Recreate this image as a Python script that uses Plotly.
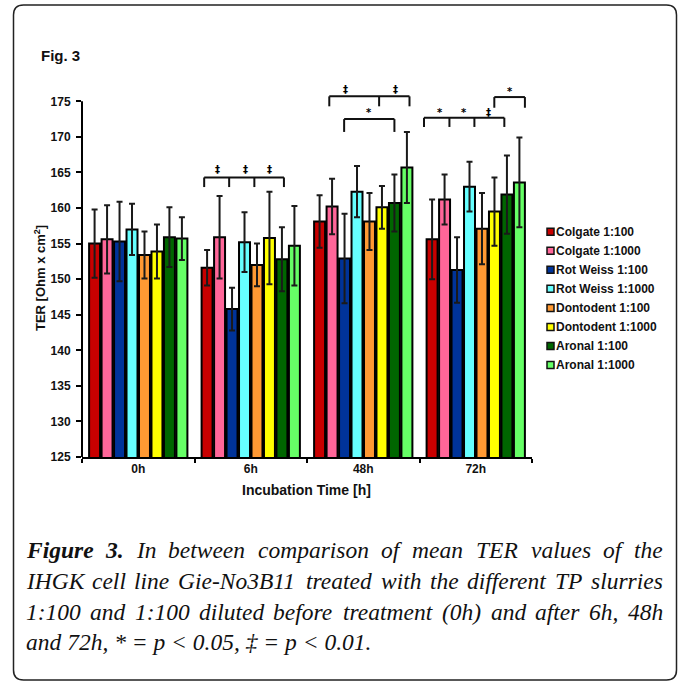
import plotly.graph_objects as go

# ---------------- data ----------------
timepoints = ["0h", "6h", "48h", "72h"]
series_names = ["Colgate 1:100", "Colgate 1:1000", "Rot Weiss 1:100", "Rot Weiss 1:1000",
                "Dontodent 1:100", "Dontodent 1:1000", "Aronal 1:100", "Aronal 1:1000"]
series_colors = ["#C80000", "#FF6699", "#003399", "#66FFFF",
                 "#FF9933", "#FFFF00", "#006600", "#66FF66"]
colgate_100 = [155.0, 151.6, 158.1, 155.6]
colgate_1000 = [155.6, 155.9, 160.2, 161.2]
rotweiss_100 = [155.3, 145.8, 152.9, 151.3]
rotweiss_1000 = [157.0, 155.2, 162.3, 163.0]
dontodent_100 = [153.4, 152.0, 158.1, 157.1]
dontodent_1000 = [153.9, 155.8, 160.1, 159.5]
aronal_100 = [155.9, 152.8, 160.7, 161.9]
aronal_1000 = [155.7, 154.7, 165.7, 163.6]
colgate_100_err = [4.8, 2.5, 3.7, 5.6]
colgate_1000_err = [4.8, 5.8, 3.9, 3.5]
rotweiss_100_err = [5.6, 3.0, 6.3, 4.6]
rotweiss_1000_err = [3.6, 4.2, 3.6, 3.5]
dontodent_100_err = [3.3, 3.0, 4.0, 5.0]
dontodent_1000_err = [3.8, 6.5, 3.0, 4.8]
aronal_100_err = [4.2, 4.5, 4.0, 5.5]
aronal_1000_err = [3.0, 5.6, 5.0, 6.3]
means = [colgate_100, colgate_1000, rotweiss_100, rotweiss_1000,
         dontodent_100, dontodent_1000, aronal_100, aronal_1000]
errors = [colgate_100_err, colgate_1000_err, rotweiss_100_err, rotweiss_1000_err,
          dontodent_100_err, dontodent_1000_err, aronal_100_err, aronal_1000_err]
y_ticks = [125, 130, 135, 140, 145, 150, 155, 160, 165, 170, 175]

# significance brackets: (category index, tick offsets, bracket y, drop y, symbols, symbol y)
brackets = [
    (1, [-0.414, -0.192, 0.032, 0.295], 164.3, 162.95, [("‡", -0.298), ("‡", -0.046), ("‡", 0.17)], 165.4),
    (2, [-0.302, 0.141, 0.411], 175.7, 174.3, [("‡", -0.157), ("‡", 0.287)], 176.7),
    (2, [-0.170, 0.277], 172.5, 170.7, [("*", 0.047)], 173.5),
    (3, [-0.460, -0.234, -0.012, 0.254], 172.7, 171.4, [("*", -0.321), ("*", -0.107), ("‡", 0.112)], 173.5),
    (3, [0.165, 0.437], 175.6, 174.1, [("*", 0.301)], 176.4),
]

caption_lines = [
    [("Figure", True), ("3.", True), ("In", False), ("between", False), ("comparison", False), ("of", False),
     ("mean", False), ("TER", False), ("values", False), ("of", False), ("the", False)],
    [("IHGK", False), ("cell", False), ("line", False), ("Gie-No3B11", False), ("treated", False), ("with", False),
     ("the", False), ("different", False), ("TP", False), ("slurries", False)],
    [("1:100", False), ("and", False), ("1:100", False), ("diluted", False), ("before", False), ("treatment", False),
     ("(0h)", False), ("and", False), ("after", False), ("6h,", False), ("48h", False)],
]
caption_last = "and 72h, * = p < 0.05, ‡ = p < 0.01."

# ---------------- layout geometry ----------------
W, H = 683, 686
ML, MR, MT, MB = 82, 151, 80, 229
PW, PH = W - ML - MR, H - MT - MB
Y_RANGE = [125, 178]


def px(x):
    return (x - ML) / PW


def py(y):
    return (H - MB - y) / PH


fig = go.Figure()
for name, color, m, e in zip(series_names, series_colors, means, errors):
    fig.add_trace(go.Bar(
        x=timepoints, y=m, name=name, showlegend=False,
        marker=dict(color=color, line=dict(color="black", width=2)),
        error_y=dict(type="data", array=e, visible=True, color="#1a1a1a", thickness=2, width=3),
    ))

shapes = []
annotations = []

# brackets
for cat, ticks, yb, yd, syms, ys in brackets:
    shapes.append(dict(type="line", xref="x", yref="y", x0=cat + ticks[0], x1=cat + ticks[-1],
                       y0=yb, y1=yb, line=dict(color="#111", width=2)))
    for t in ticks:
        shapes.append(dict(type="line", xref="x", yref="y", x0=cat + t, x1=cat + t,
                           y0=yb, y1=yd, line=dict(color="#111", width=2)))
    for s, o in syms:
        annotations.append(dict(x=cat + o, y=ys, xref="x", yref="y", text=s, showarrow=False,
                                font=dict(family="DejaVu Sans", size=10, color="#000000", weight="bold"),
                                xanchor="center", yanchor="middle"))

# y axis line only up to 175
frac = (y_ticks[-1] - Y_RANGE[0]) / (Y_RANGE[1] - Y_RANGE[0])
shapes.append(dict(type="line", xref="paper", yref="paper", x0=0, x1=0, y0=0, y1=frac,
                   line=dict(color="black", width=2)))

# frame
L, R, T, B, r = 13.5, 676.5, 5, 680, 10
path = (f"M{px(L + r)},{py(T)} L{px(R - r)},{py(T)} Q{px(R)},{py(T)} {px(R)},{py(T + r)} "
        f"L{px(R)},{py(B - r)} Q{px(R)},{py(B)} {px(R - r)},{py(B)} "
        f"L{px(L + r)},{py(B)} Q{px(L)},{py(B)} {px(L)},{py(B - r)} "
        f"L{px(L)},{py(T + r)} Q{px(L)},{py(T)} {px(L + r)},{py(T)} Z")
shapes.append(dict(type="path", xref="paper", yref="paper", path=path,
                   line=dict(color="#222", width=1.5)))

sans = "Liberation Sans"
# Fig. 3
annotations.append(dict(x=px(40), y=py(55), xref="paper", yref="paper", text="Fig. 3", showarrow=False,
                        xanchor="left", yanchor="middle", borderpad=0,
                        font=dict(family=sans, size=15, color="#111", weight="bold")))
# axis titles
annotations.append(dict(x=px(40), y=py(278), xref="paper", yref="paper", text="TER [Ohm x cm<sup>2</sup>]",
                        showarrow=False, textangle=-90, xanchor="center", yanchor="middle",
                        font=dict(family=sans, size=13, color="#111", weight="bold")))
annotations.append(dict(x=px(306.5), y=py(489.5), xref="paper", yref="paper", text="Incubation Time [h]",
                        showarrow=False, xanchor="center", yanchor="middle",
                        font=dict(family=sans, size=14, color="#111", weight="bold")))

# manual legend
leg_y0, leg_dy = 231.7, 19.05
for i, (name, color) in enumerate(zip(series_names, series_colors)):
    yc = leg_y0 + i * leg_dy
    shapes.append(dict(type="rect", xref="paper", yref="paper", x0=px(547), x1=px(554),
                       y0=py(yc + 3.5), y1=py(yc - 3.5), fillcolor=color,
                       line=dict(color="#111", width=1.5)))
    annotations.append(dict(x=px(555), y=py(yc), xref="paper", yref="paper", text=name, showarrow=False,
                            xanchor="left", yanchor="middle", borderpad=0,
                            font=dict(family=sans, size=12, color="#111", weight="bold")))

# caption (justified words)
TI = {' ': 250, 'a': 500, 'b': 500, 'c': 444, 'd': 500, 'e': 444, 'f': 278, 'g': 500, 'h': 500, 'i': 278,
      'j': 278, 'k': 444, 'l': 278, 'm': 722, 'n': 500, 'o': 500, 'p': 500, 'q': 500, 'r': 389, 's': 389,
      't': 278, 'u': 500, 'v': 444, 'w': 667, 'x': 444, 'y': 444, 'z': 389, 'A': 611, 'B': 611, 'C': 667,
      'D': 722, 'E': 611, 'F': 611, 'G': 722, 'H': 722, 'I': 333, 'K': 667, 'N': 667, 'O': 722, 'P': 611,
      'R': 611, 'T': 556, '.': 250, ',': 250, ':': 333, '-': 333, '(': 333, ')': 333, '*': 500}
TBI = {'F': 667, 'i': 278, 'g': 500, 'u': 556, 'r': 389, 'e': 444, '3': 500, '.': 250}
CFS = 23.5
CL, CR = 25, 662
line_y = [550, 581, 612, 642]


def wwidth(word, bold):
    tab = TBI if bold else TI
    return sum(tab.get(ch, 500) for ch in word) * CFS / 1000


serif = "Liberation Serif"
for li, words in enumerate(caption_lines):
    widths = [wwidth(w, b) for w, b in words]
    gap = (CR - CL - sum(widths)) / (len(words) - 1)
    xcur = CL
    for (w, b), wd in zip(words, widths):
        txt = f"<b><i>{w}</i></b>" if b else f"<i>{w}</i>"
        annotations.append(dict(x=px(xcur), y=py(line_y[li]), xref="paper", yref="paper", text=txt,
                                showarrow=False, xanchor="left", yanchor="middle", borderpad=0,
                                font=dict(family=serif, size=CFS, color="#111")))
        xcur += wd + gap
annotations.append(dict(x=px(CL), y=py(line_y[3]), xref="paper", yref="paper", text=f"<i>{caption_last}</i>",
                        showarrow=False, xanchor="left", yanchor="middle", borderpad=0,
                        font=dict(family=serif, size=CFS, color="#111")))

fig.update_layout(
    width=W, height=H, margin=dict(l=ML, r=MR, t=MT, b=MB, autoexpand=False),
    paper_bgcolor="white", plot_bgcolor="white",
    barmode="group", bargap=0.113, bargroupgap=0.12,
    shapes=shapes, annotations=annotations, showlegend=False,
    xaxis=dict(type="category", showline=True, linecolor="black", linewidth=2, ticks="outside",
               tickson="boundaries", ticklen=4, tickwidth=2, tickcolor="black", showgrid=False,
               tickfont=dict(family=sans, size=12, color="#111", weight="bold"), zeroline=False),
    yaxis=dict(range=Y_RANGE, tickvals=y_ticks, showline=False, ticks="outside", ticklen=5, tickwidth=2,
               tickcolor="black", showgrid=False, zeroline=False, ticklabelstandoff=3,
               tickfont=dict(family=sans, size=12, color="#111", weight="bold")),
)

fig.write_html("out.html", config={"displayModeBar": False},
               post_script="document.body.style.margin='0px';document.body.style.padding='0px';")
